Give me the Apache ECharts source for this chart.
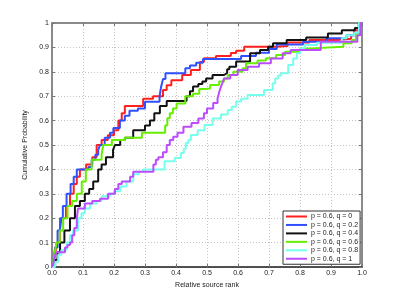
<!DOCTYPE html>
<html>
<head>
<meta charset="utf-8">
<script src="https://cdn.jsdelivr.net/npm/echarts@6/dist/echarts.min.js"></script>
<style>
html,body{margin:0;padding:0;background:#fff;}
#chart{width:400px;height:301px;}
</style>
</head>
<body>
<div id="chart"></div>
<script>
// ---- data ----
const seriesNames = ['p = 0.6, q = 0', 'p = 0.6, q = 0.2', 'p = 0.6, q = 0.4', 'p = 0.6, q = 0.6', 'p = 0.6, q = 0.8', 'p = 0.6, q = 1'];
const xTickLabels = ['0.0','0.1','0.2','0.3','0.4','0.5','0.6','0.7','0.8','0.9','1.0'];
const yTickLabels = ['0','0.1','0.2','0.3','0.4','0.5','0.6','0.7','0.8','0.9','1'];

const q0x = [0,0.005,0.01,0.015,0.025,0.031,0.045,0.058,0.07,0.08,0.09,0.11,0.13,0.144,0.16,0.18,0.2,0.214,0.225,0.235,0.294,0.326,0.358,0.37,0.385,0.42,0.448,0.477,0.49,0.529,0.577,0.594,0.62,0.725,0.76,0.83,0.92,0.965,0.975,0.99,1.0];
const q0y = [0,0.02,0.05,0.1,0.15,0.2,0.25,0.3,0.34,0.37,0.4,0.42,0.45,0.5,0.52,0.54,0.56,0.6,0.63,0.66,0.69,0.70,0.725,0.745,0.765,0.787,0.807,0.84,0.856,0.865,0.877,0.886,0.903,0.906,0.92,0.93,0.935,0.95,0.97,1.0,1.0];

const q02x = [0,0.005,0.01,0.018,0.026,0.035,0.047,0.06,0.07,0.08,0.117,0.128,0.14,0.149,0.155,0.17,0.187,0.198,0.219,0.235,0.25,0.277,0.3,0.347,0.352,0.358,0.366,0.43,0.445,0.465,0.487,0.61,0.658,0.70,0.725,0.81,0.886,0.95,0.975,0.99,1.0];
const q02y = [0,0.03,0.08,0.15,0.2,0.25,0.3,0.34,0.37,0.4,0.41,0.44,0.46,0.48,0.5,0.53,0.55,0.57,0.6,0.62,0.64,0.65,0.677,0.70,0.739,0.77,0.794,0.815,0.826,0.837,0.852,0.865,0.878,0.893,0.912,0.923,0.937,0.95,0.96,1.0,1.0];

const q04x = [0,0.01,0.018,0.026,0.04,0.058,0.074,0.09,0.106,0.12,0.133,0.149,0.16,0.174,0.197,0.203,0.22,0.235,0.262,0.3,0.316,0.33,0.348,0.37,0.434,0.445,0.455,0.472,0.485,0.497,0.518,0.555,0.565,0.572,0.594,0.639,0.671,0.697,0.713,0.757,0.82,0.89,0.935,0.977,0.99,1.0];
const q04y = [0,0.03,0.06,0.1,0.15,0.2,0.25,0.27,0.3,0.32,0.35,0.4,0.42,0.45,0.48,0.5,0.52,0.53,0.56,0.58,0.6,0.63,0.66,0.68,0.70,0.72,0.74,0.75,0.76,0.773,0.787,0.795,0.81,0.821,0.842,0.876,0.889,0.903,0.917,0.93,0.941,0.957,0.97,0.98,1.0,1.0];

const q06x = [0,0.005,0.01,0.015,0.025,0.036,0.05,0.065,0.08,0.096,0.109,0.128,0.16,0.165,0.193,0.235,0.29,0.365,0.372,0.38,0.39,0.402,0.43,0.455,0.475,0.497,0.51,0.539,0.555,0.567,0.585,0.615,0.626,0.663,0.69,0.723,0.752,0.80,0.838,0.94,0.967,0.98,0.99,1.0];
const q06y = [0,0.03,0.07,0.1,0.15,0.2,0.25,0.27,0.3,0.35,0.4,0.44,0.46,0.5,0.52,0.53,0.55,0.58,0.61,0.63,0.65,0.67,0.70,0.71,0.73,0.732,0.746,0.76,0.773,0.787,0.80,0.815,0.835,0.846,0.856,0.869,0.882,0.896,0.903,0.917,0.93,0.95,1.0,1.0];

const q08x = [0,0.01,0.02,0.03,0.047,0.058,0.068,0.084,0.095,0.106,0.123,0.144,0.16,0.187,0.2,0.22,0.24,0.262,0.28,0.294,0.363,0.396,0.416,0.425,0.432,0.44,0.448,0.47,0.492,0.518,0.545,0.567,0.58,0.594,0.61,0.631,0.684,0.712,0.72,0.73,0.739,0.762,0.778,0.79,0.80,0.815,0.855,0.935,0.95,0.975,0.99,1.0];
const q08y = [0,0.02,0.05,0.07,0.1,0.13,0.15,0.2,0.22,0.24,0.26,0.27,0.29,0.3,0.31,0.33,0.35,0.38,0.39,0.40,0.433,0.447,0.467,0.485,0.508,0.52,0.541,0.56,0.582,0.609,0.625,0.643,0.657,0.678,0.69,0.705,0.725,0.753,0.773,0.785,0.794,0.828,0.855,0.876,0.896,0.91,0.919,0.937,0.95,0.96,1.0,1.0];

const q1x = [0,0.005,0.01,0.015,0.042,0.05,0.058,0.065,0.072,0.08,0.084,0.106,0.13,0.155,0.181,0.203,0.214,0.225,0.252,0.262,0.327,0.335,0.343,0.358,0.37,0.38,0.391,0.405,0.424,0.45,0.472,0.49,0.50,0.52,0.534,0.54,0.545,0.55,0.555,0.575,0.599,0.631,0.668,0.706,0.744,0.77,0.867,0.985,0.995,1.0];
const q1y = [0,0.02,0.05,0.06,0.08,0.09,0.1,0.13,0.16,0.2,0.24,0.26,0.27,0.28,0.30,0.32,0.34,0.35,0.37,0.39,0.42,0.44,0.45,0.47,0.5,0.52,0.534,0.55,0.575,0.59,0.609,0.63,0.65,0.672,0.691,0.719,0.739,0.755,0.773,0.787,0.807,0.821,0.835,0.855,0.876,0.889,0.923,0.95,1.0,1.0];

const allX = [q0x, q02x, q04x, q06x, q08x, q1x];
const allY = [q0y, q02y, q04y, q06y, q08y, q1y];
const colors = ['#ff1f1f', '#3050ff', '#111111', '#66ee00', '#77ffee', '#bb4dff'];

// ---- chart ----
const chart = echarts.init(document.getElementById('chart'), null, {renderer: 'canvas'});
const font = 'Liberation Sans, Arial, Helvetica, sans-serif';
const frameGray = '#8a8a8a';

const series = seriesNames.map((name, i) => ({
  name: name,
  type: 'line',
  step: 'end',
  xAxisIndex: 0,
  yAxisIndex: 0,
  symbol: 'none',
  showSymbol: false,
  animation: false,
  lineStyle: {color: colors[i], width: 2},
  itemStyle: {color: colors[i]},
  data: allX[i].map((x, k) => [x, allY[i][k]])
}));

const option = {
  animation: false,
  backgroundColor: '#fff',
  grid: {left: 52, top: 23, right: 38, bottom: 34, show: false},
  legend: {
    data: seriesNames,
    orient: 'vertical',
    left: 283,
    top: 211,
    icon: 'rect',
    itemWidth: 21,
    itemHeight: 2,
    itemGap: 1.45,
    padding: [2, 2, 2, 3],
    borderColor: '#333',
    borderWidth: 1,
    backgroundColor: '#fff',
    textStyle: {fontSize: 7, lineHeight: 7, fontFamily: font, color: '#222', padding: [0,0,0,-1]},
    z: 10
  },
  xAxis: [
    {
      type: 'value', min: 0, max: 1, interval: 0.1, position: 'bottom',
      name: 'Relative source rank', nameLocation: 'middle', nameGap: 12,
      nameTextStyle: {fontSize: 7, fontFamily: font, color: '#222'},
      axisLine: {show: true, onZero: false, lineStyle: {color: '#1a1a1a', width: 1.5}},
      axisTick: {show: true, inside: true, length: 3, lineStyle: {color: '#777'}},
      axisLabel: {fontSize: 7, fontFamily: font, color: '#222', margin: 3,
        formatter: v => xTickLabels[Math.round(v * 10)]},
      splitLine: {show: true, lineStyle: {color: '#c4c4c4', width: 1, type: [1, 2]}}
    },
    {
      type: 'value', min: 0, max: 1, interval: 0.1, position: 'top',
      axisLine: {show: true, onZero: false, lineStyle: {color: frameGray, width: 2}},
      axisTick: {show: true, inside: true, length: 3, lineStyle: {color: '#777'}},
      axisLabel: {show: false}, splitLine: {show: false}
    }
  ],
  yAxis: [
    {
      type: 'value', min: 0, max: 1, interval: 0.1, position: 'left',
      name: 'Cumulative Probability', nameLocation: 'middle', nameGap: 16,
      nameTextStyle: {fontSize: 7, fontFamily: font, color: '#222'},
      axisLine: {show: true, onZero: false, lineStyle: {color: frameGray, width: 2}},
      axisTick: {show: true, inside: true, length: 3, lineStyle: {color: '#777'}},
      axisLabel: {fontSize: 7, fontFamily: font, color: '#222', margin: 3,
        formatter: v => yTickLabels[Math.round(v * 10)]},
      splitLine: {show: true, lineStyle: {color: '#c4c4c4', width: 1, type: [1, 2]}}
    },
    {
      type: 'value', min: 0, max: 1, interval: 0.1, position: 'right',
      axisLine: {show: true, onZero: false, lineStyle: {color: frameGray, width: 2}},
      axisTick: {show: true, inside: true, length: 3, lineStyle: {color: '#777'}},
      axisLabel: {show: false}, splitLine: {show: false}
    }
  ],
  series: series
};
chart.setOption(option);
</script>
</body>
</html>
